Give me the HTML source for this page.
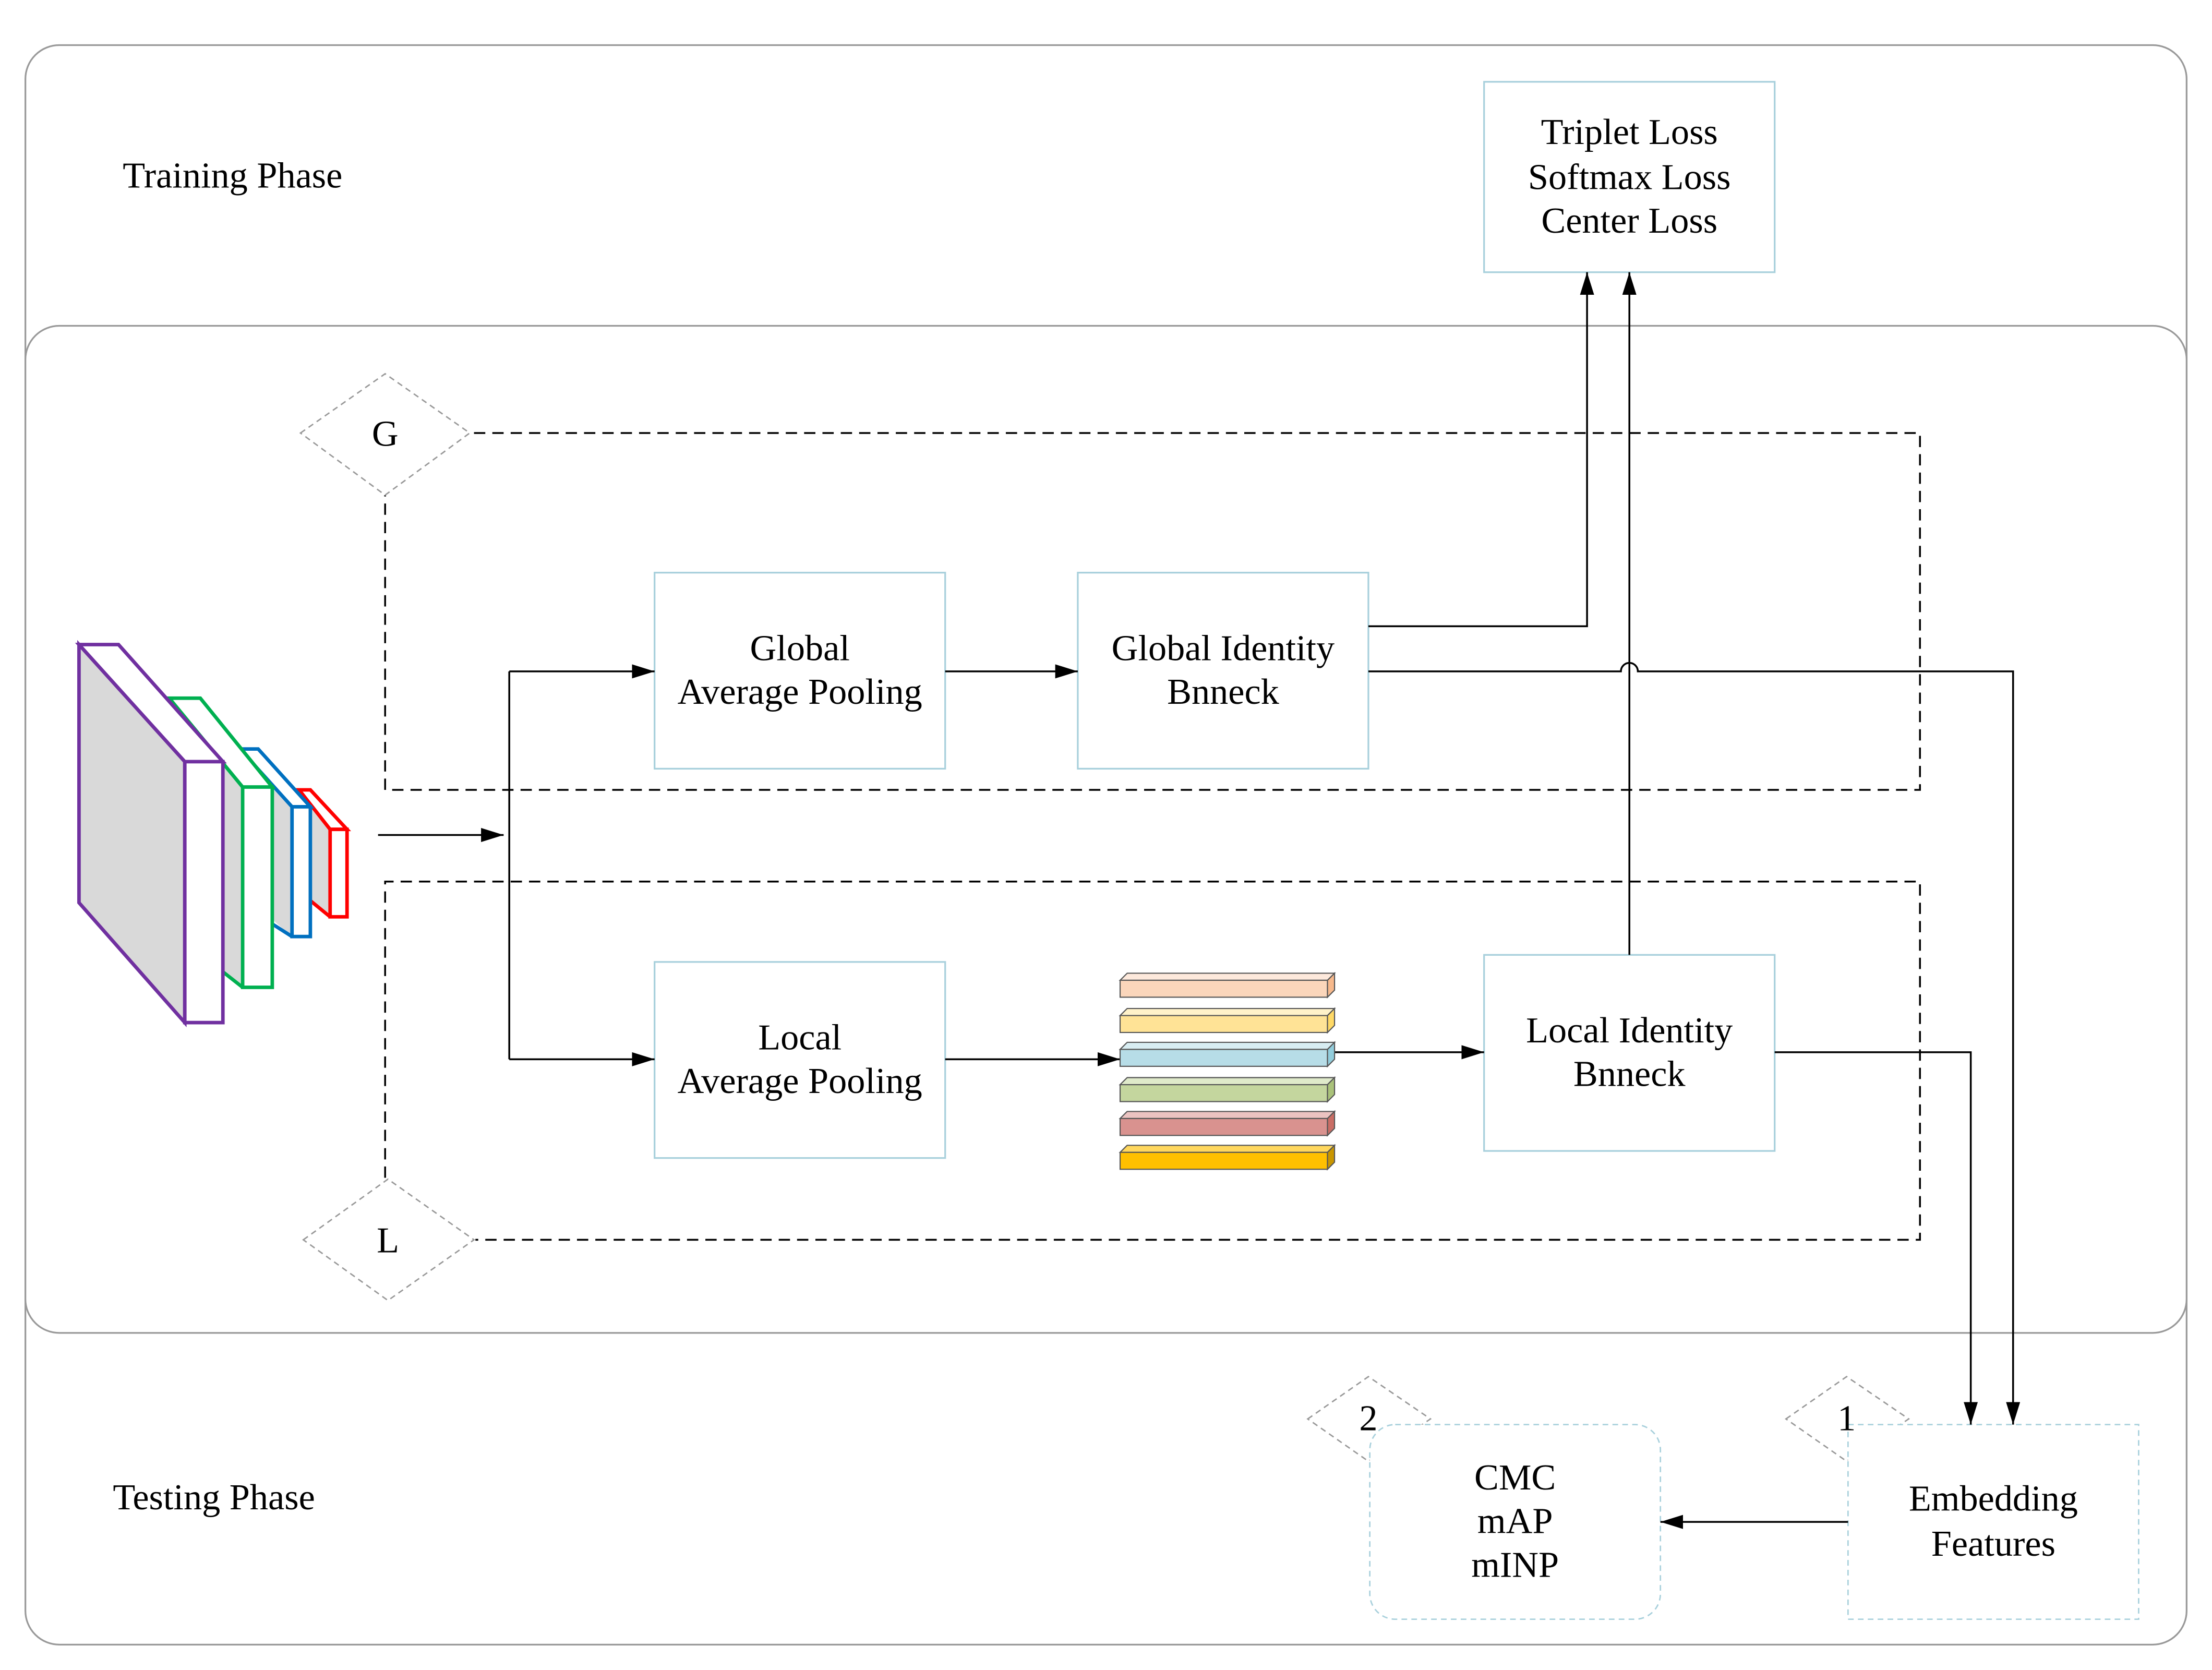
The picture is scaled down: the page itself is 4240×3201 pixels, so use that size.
<!DOCTYPE html>
<html><head><meta charset="utf-8"><style>html,body{margin:0;padding:0;background:#fff}svg{display:block}</style></head>
<body>
<svg width="4240" height="3201" viewBox="0 0 1568 1184" preserveAspectRatio="none" xmlns="http://www.w3.org/2000/svg" font-family="Liberation Serif, serif" font-size="26">
<defs>
<marker id="b" markerWidth="16" markerHeight="10" refX="16" refY="5" orient="auto" markerUnits="userSpaceOnUse"><path d="M0,0 L16,5 L0,10 Z" fill="#000"/></marker>
</defs>
<rect x="18" y="32" width="1532" height="1134" rx="24" fill="none" stroke="#999" stroke-width="1.2"/>
<rect x="18" y="231" width="1532" height="714" rx="24" fill="#fff" stroke="#999" stroke-width="1.2"/>
<text x="87" y="133">Training Phase</text>
<text x="80" y="1070">Testing Phase</text>

<rect x="1052" y="58" width="206" height="135" fill="none" stroke="#a8d0dc" stroke-width="1.2"/>
<g text-anchor="middle"><text x="1155" y="102">Triplet Loss</text><text x="1155" y="134">Softmax Loss</text><text x="1155" y="165">Center Loss</text></g>

<g fill="none" stroke="#000" stroke-width="1.3" stroke-dasharray="8,5">
<path d="M336,307 H1361 V560 H273 V351"/>
<path d="M273,835 V625 H1361 V879 H337"/>
</g>
<g fill="#fff" stroke="#999" stroke-width="1" stroke-dasharray="4,3">
<polygon points="213,307 273,265 333,307 273,351"/>
<polygon points="215,879 275,836 336,879 275,922"/>
<polygon points="927,1006 970,976 1014,1006 970,1036"/>
<polygon points="1266,1006 1309,976 1353,1006 1309,1036"/>
<rect x="971" y="1010" width="206" height="138" rx="18" stroke="#a8d0dc"/>
<rect x="1310" y="1010" width="206" height="138" stroke="#a8d0dc"/>
</g>
<g text-anchor="middle"><text x="273" y="316">G</text><text x="275" y="888">L</text><text x="970" y="1014">2</text><text x="1309" y="1014">1</text>
<text x="1074" y="1056">CMC</text><text x="1074" y="1087">mAP</text><text x="1074" y="1118">mINP</text>
<text x="1413" y="1071">Embedding</text><text x="1413" y="1103">Features</text></g>

<g fill="#fff" stroke="#a8d0dc" stroke-width="1.2">
<rect x="464" y="406" width="206" height="139"/><rect x="764" y="406" width="206" height="139"/>
<rect x="464" y="682" width="206" height="139"/><rect x="1052" y="677" width="206" height="139"/>
</g>
<g text-anchor="middle">
<text x="567" y="468">Global</text><text x="567" y="499">Average Pooling</text>
<text x="867" y="468">Global Identity</text><text x="867" y="499">Bnneck</text>
<text x="567" y="744">Local</text><text x="567" y="775">Average Pooling</text>
<text x="1155" y="739">Local Identity</text><text x="1155" y="770">Bnneck</text>
</g>

<g fill="none" stroke="#000" stroke-width="1.3">
<path d="M268,592 H357" marker-end="url(#b)"/>
<path d="M361,476 V751"/>
<path d="M361,476 H464" marker-end="url(#b)"/>
<path d="M361,751 H464" marker-end="url(#b)"/>
<path d="M670,476 H764" marker-end="url(#b)"/>
<path d="M970,444 H1125 V193" marker-end="url(#b)"/>
<path d="M1155,677 V193" marker-end="url(#b)"/>
<path d="M970,476 H1149 A6,6 0 0 1 1161,476 H1427 V1010" marker-end="url(#b)"/>
<path d="M670,751 H794" marker-end="url(#b)"/>
<path d="M944,746 H1052" marker-end="url(#b)"/>
<path d="M1258,746 H1397 V1010" marker-end="url(#b)"/>
<path d="M1310,1079 H1177" marker-end="url(#b)"/>
</g>

<g stroke="#555" stroke-width="0.8">
<g><polygon points="794,695 799,690 946,690 941,695" fill="#fde9dc"/><rect x="794" y="695" width="147" height="12" fill="#fbd6bb"/><polygon points="941,695 946,690 946,702 941,707" fill="#f7b98c"/></g>
<g><polygon points="794,720 799,715 946,715 941,720" fill="#fff2c9"/><rect x="794" y="720" width="147" height="12" fill="#ffe396"/><polygon points="941,720 946,715 946,727 941,732" fill="#ffd966"/></g>
<g><polygon points="794,744 799,739 946,739 941,744" fill="#d8edf2"/><rect x="794" y="744" width="147" height="12" fill="#b7dde7"/><polygon points="941,744 946,739 946,751 941,756" fill="#92cddc"/></g>
<g><polygon points="794,769 799,764 946,764 941,769" fill="#dfeaca"/><rect x="794" y="769" width="147" height="12" fill="#c4d69e"/><polygon points="941,769 946,764 946,776 941,781" fill="#aac27a"/></g>
<g><polygon points="794,793 799,788 946,788 941,793" fill="#ebc3c1"/><rect x="794" y="793" width="147" height="12" fill="#d9928f"/><polygon points="941,793 946,788 946,800 941,805" fill="#c96d65"/></g>
<g><polygon points="794,817 799,812 946,812 941,817" fill="#ffd75e"/><rect x="794" y="817" width="147" height="12" fill="#ffc000"/><polygon points="941,817 946,812 946,824 941,829" fill="#c99600"/></g>
</g>

<g stroke-width="2.5" stroke-linejoin="miter">
<g stroke="#ff0000"><polygon points="212,560 234,588 234,650 212,632" fill="#d9d9d9" stroke="none"/><path d="M212,632 L234,650" fill="none"/><polygon points="212,560 220,560 246,588 234,588" fill="#fff"/><rect x="234" y="588" width="12" height="62" fill="#fff"/></g>
<g stroke="#0070c0"><polygon points="170,531 207,572 207,664 170,632" fill="#d9d9d9" stroke="none"/><path d="M185,650 L207,664" fill="none"/><polygon points="170,531 183,531 220,572 207,572" fill="#fff"/><rect x="207" y="572" width="13" height="92" fill="#fff"/></g>
<g stroke="#00b050"><polygon points="120,495 172,558 172,700 120,655" fill="#d9d9d9" stroke="none"/><path d="M158,689 L172,700" fill="none"/><polygon points="120,495 142,495 193,558 172,558" fill="#fff"/><rect x="172" y="558" width="21" height="142" fill="#fff"/></g>
<g stroke="#7030a0"><polygon points="56,457 131,540 131,725 56,640" fill="#d9d9d9"/><polygon points="56,457 84,457 158,540 131,540" fill="#fff"/><rect x="131" y="540" width="27" height="185" fill="#fff"/></g>
</g>
</svg>
</body></html>
